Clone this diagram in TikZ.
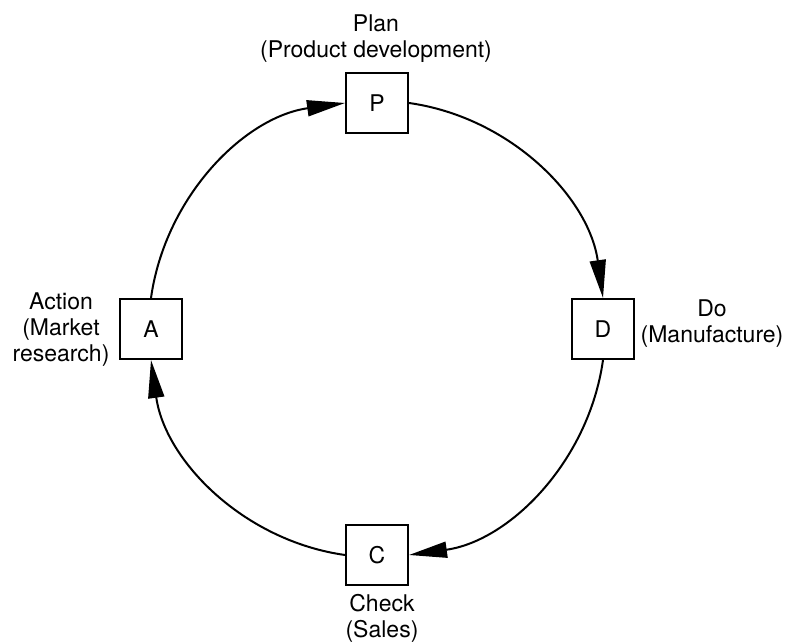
\documentclass[tikz,border=0pt]{standalone}
\usepackage{fontspec}
\setmainfont{TeX Gyre Heros}
\usetikzlibrary{arrows.meta}
\begin{document}
\begin{tikzpicture}[x=1pt,y=1pt,
  stagebox/.style={draw, line width=2pt, minimum width=62pt, minimum height=60pt,
    inner sep=0pt, font=\fontsize{23}{26}\selectfont},
  caption/.style={align=center, inner sep=0pt, anchor=base,
    font=\fontsize{23}{26}\selectfont},
  cycleline/.style={line width=2pt, -{Triangle[length=38pt,width=16pt]}, looseness=0.95},
]
\useasboundingbox (0,0) rectangle (789,642);

% the four stages on a circle of radius 226 around (377,313)
\node[stagebox] (P) at (377,539) {P};
\node[stagebox] (D) at (603,313) {D};
\node[stagebox] (C) at (377,87) {C};
\node[stagebox] (A) at (151,313) {A};

% stage captions (anchored at the baseline of their last line)
\node[caption] (plan)   at (376,584) {Plan\\(Product development)};
\node[caption] (do)     at (712,299) {Do\\(Manufacture)};
\node[caption] (check)  at (382,5)   {Check\\(Sales)};
\node[caption] (action) at (61,280)  {Action\\(Market\\research)};

% clockwise cycle between the stages
\draw[cycleline] (A.north) to[out=82,in=188] (P.west);
\draw[cycleline] (P.east)  to[out=-8,in=98]  (D.north);
\draw[cycleline] (D.south) to[out=-98,in=8]  (C.east);
\draw[cycleline] (C.west)  to[out=172,in=-82] (A.south);
\end{tikzpicture}
\end{document}
